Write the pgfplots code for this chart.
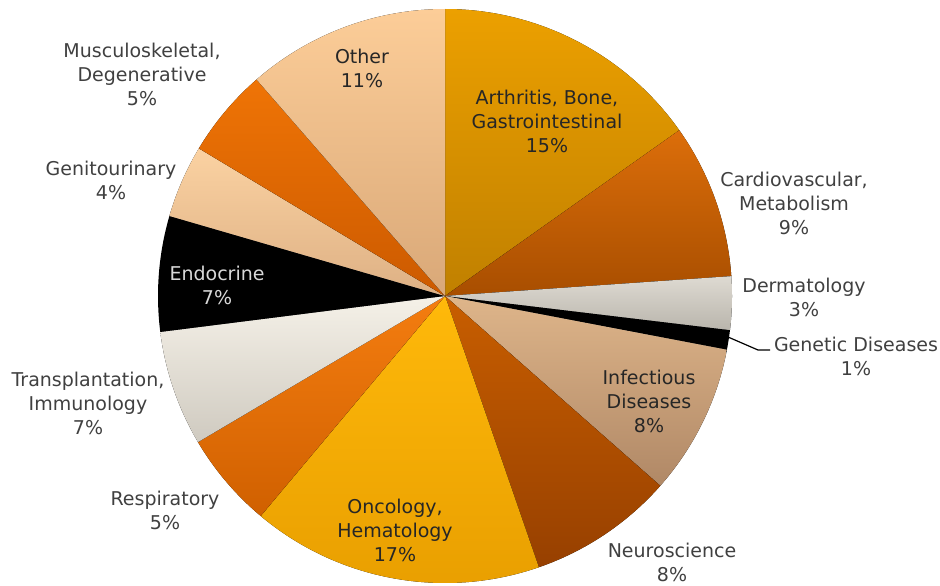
\documentclass[border=0pt]{standalone}
\usepackage{pgfplots}
\pgfplotsset{compat=1.18}
\usepackage{pgfplotstable}
\usepackage{fontspec}
\setmainfont{DejaVu Sans}

% shares in percent, clockwise from 12 o'clock
\pgfplotstableread{
share
15.2
8.7
3.0
1.1
8.5
8.2
16.4
5.4
6.5
6.5
4.1
5.0
11.4
}\sharetable

\definecolor{outtxt}{HTML}{404040}
\definecolor{intxt}{HTML}{262626}
\definecolor{artT}{HTML}{ECA000}\definecolor{artB}{HTML}{C08000}
\definecolor{carT}{HTML}{DC6E0A}\definecolor{carB}{HTML}{A84E00}
\definecolor{derT}{HTML}{DEDAD2}\definecolor{derB}{HTML}{B9B5AC}
\definecolor{infT}{HTML}{DEB58A}\definecolor{infB}{HTML}{B08866}
\definecolor{neuT}{HTML}{C85E00}\definecolor{neuB}{HTML}{974000}
\definecolor{oncT}{HTML}{FFB90A}\definecolor{oncB}{HTML}{E89E00}
\definecolor{resT}{HTML}{F47D10}\definecolor{resB}{HTML}{D06000}
\definecolor{traT}{HTML}{F5F1E8}\definecolor{traB}{HTML}{CFCAC0}
\definecolor{genT}{HTML}{FBD2A2}\definecolor{genB}{HTML}{DDB084}
\definecolor{musT}{HTML}{EF7406}\definecolor{musB}{HTML}{CC5A00}
\definecolor{othT}{HTML}{FCCD98}\definecolor{othB}{HTML}{D9A878}

% cumulative angles ang0 ... ang13
\expandafter\gdef\csname ang0\endcsname{90}
\gdef\cum{0}
\pgfplotsforeachungrouped \i in {1,...,13}{%
  \pgfmathtruncatemacro{\r}{\i-1}%
  \pgfplotstablegetelem{\r}{share}\of\sharetable
  \pgfmathsetmacro{\cum}{\cum+\pgfplotsretval}%
  \pgfmathsetmacro{\a}{90-3.6*\cum}%
  \expandafter\xdef\csname ang\i\endcsname{\a}%
}

% #1 slice number, #2 fill options
\newcommand\slice[2]{%
  \pgfmathtruncatemacro{\prev}{#1-1}%
  \edef\sa{\csname ang\prev\endcsname}%
  \edef\sb{\csname ang#1\endcsname}%
  \edef\tmp{\noexpand\fill[\unexpanded{#2}] (axis cs:445,289) -- ++(\sa:143.5pt)
    arc[start angle=\sa, end angle=\sb, radius=143.5pt] -- cycle;}%
  \tmp
}

\begin{document}
\begin{tikzpicture}
\useasboundingbox (0,0) rectangle (470pt,292.5pt);
\begin{axis}[
    x=0.5pt, y=0.5pt,
    xmin=0, xmax=940, ymin=0, ymax=585,
    hide axis,
    clip=false,
    anchor=south west,
    at={(0,0)},
    nodes={font=\fontsize{9.5}{12}\selectfont, align=center, inner sep=0pt},
]
\slice{1}{top color=artT, bottom color=artB}
\slice{2}{top color=carT, bottom color=carB}
\slice{3}{top color=derT, bottom color=derB}
\slice{4}{black}
\slice{5}{top color=infT, bottom color=infB}
\slice{6}{top color=neuT, bottom color=neuB}
\slice{7}{top color=oncT, bottom color=oncB}
\slice{8}{top color=resT, bottom color=resB}
\slice{9}{top color=traT, bottom color=traB}
\slice{10}{black}
\slice{11}{top color=genT, bottom color=genB}
\slice{12}{top color=musT, bottom color=musB}
\slice{13}{top color=othT, bottom color=othB}

% leader line for the smallest slice
\draw[black, semithick] (axis cs:728,248) -- (axis cs:758,235) -- (axis cs:770,235);

% labels inside
\node[intxt] at (axis cs:547,464) {Arthritis, Bone,\\Gastrointestinal\\15\%};
\node[intxt] at (axis cs:649,184) {Infectious\\Diseases\\8\%};
\node[intxt] at (axis cs:395,55) {Oncology,\\Hematology\\17\%};
\node[white!85!black] at (axis cs:217,300) {Endocrine\\7\%};
\node[intxt] at (axis cs:362,517) {Other\\11\%};
% labels outside
\node[outtxt] at (axis cs:794,382) {Cardiovascular,\\Metabolism\\9\%};
\node[outtxt] at (axis cs:804,288) {Dermatology\\3\%};
\node[outtxt] at (axis cs:856,229) {Genetic Diseases\\1\%};
\node[outtxt] at (axis cs:672,23) {Neuroscience\\8\%};
\node[outtxt] at (axis cs:165,75) {Respiratory\\5\%};
\node[outtxt] at (axis cs:88,182) {Transplantation,\\Immunology\\7\%};
\node[outtxt] at (axis cs:111,405) {Genitourinary\\4\%};
\node[outtxt] at (axis cs:142,511) {Musculoskeletal,\\Degenerative\\5\%};
\end{axis}
\end{tikzpicture}
\end{document}
